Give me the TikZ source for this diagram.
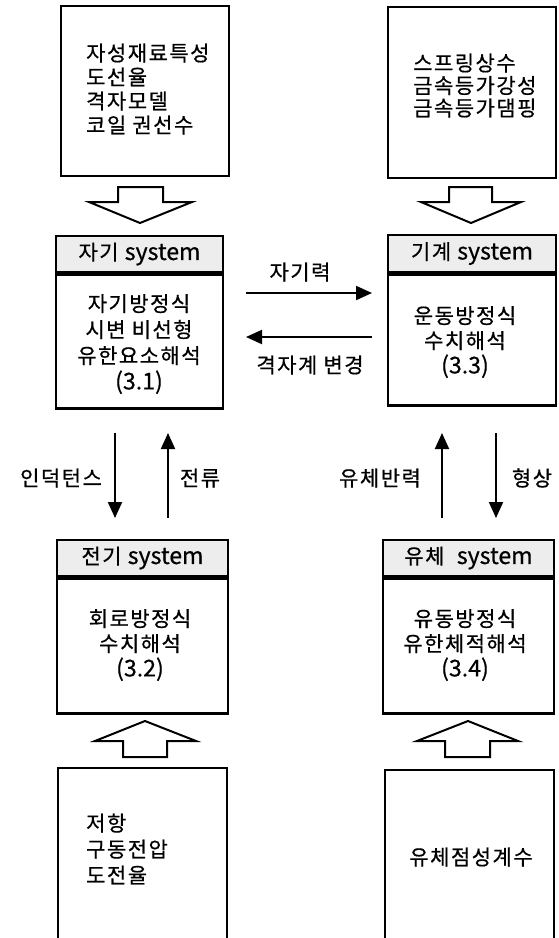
\documentclass[tikz,border=0pt]{standalone}
\usepackage{fontspec}
\setmainfont{Noto Sans CJK KR}[LetterSpace=7,FakeBold=0.6]
\newfontfamily\latfont{Noto Sans CJK KR}[Scale=1.1,FakeBold=0.6]
\usetikzlibrary{arrows.meta}
\tikzset{
  bx/.style={draw, line width=2.6pt, inner sep=0pt},
  hdr/.style={draw, line width=2.6pt, fill=black!7, inner sep=0pt, font=\fontsize{21}{22}\selectfont},
  txt/.style={inner sep=0pt, font=\fontsize{21}{24}\selectfont},
  lbl/.style={inner sep=0pt, font=\fontsize{21}{22}\selectfont},
  conn/.style={line width=2pt, -{Triangle[length=16pt,width=14pt]}},
  hollow/.style={draw, line width=2pt, fill=white, line join=miter}
}
\begin{document}
\begin{tikzpicture}[x=1pt,y=-1pt]
\useasboundingbox (0,0) rectangle (558,938);
% input boxes
\node[bx, minimum width=168pt, minimum height=170pt] (inMag) at (145,91) {};
\node[bx, minimum width=168pt, minimum height=171pt] (inMech) at (472,92.5) {};
\node[bx, minimum width=169pt, minimum height=182pt] (inElec) at (142.5,859) {};
\node[bx, minimum width=169pt, minimum height=180pt] (inFluid) at (469.5,860) {};
\node[txt, align=left, anchor=west] (tMag) at (86,89) {자성재료특성\\도선율\\격자모델\\코일 권선수};
\node[txt, align=left, anchor=west, font=\fontsize{21}{22.5}\selectfont] (tMech) at (413,85.5) {스프링상수\\금속등가강성\\금속등가댐핑};
\node[txt, align=left, anchor=west, font=\fontsize{21}{26}\selectfont] (tElec) at (86,849) {저항\\구동전압\\도전율};
\node[txt] (tFluid) at (471,857) {유체점성계수};
% system boxes
\node[hdr, minimum width=167pt, minimum height=36pt] (magH) at (139.5,254) {자기 {\latfont system}};
\node[bx, minimum width=167pt, minimum height=134pt, anchor=north] (magSys) at (magH.south) {};
\node[txt, align=center, font=\fontsize{21}{26}\selectfont] at (139,344) {자기방정식\\시변 비선형\\유한요소해석\\{\latfont (3.1)}};
\node[hdr, minimum width=168pt, minimum height=37pt] (mechH) at (472,253.5) {기계 {\latfont system}};
\node[bx, minimum width=168pt, minimum height=131pt, anchor=north] (mechSys) at (mechH.south) {};
\node[txt, align=center, font=\fontsize{21}{25}\selectfont] at (465,342) {운동방정식\\수치해석\\{\latfont (3.3)}};
\node[hdr, minimum width=171pt, minimum height=36pt] (elecH) at (142.5,558) {전기 {\latfont system}};
\node[bx, minimum width=171pt, minimum height=135pt, anchor=north] (elecSys) at (elecH.south) {};
\node[txt, align=center, font=\fontsize{21}{25}\selectfont] at (140,645) {회로방정식\\수치해석\\{\latfont (3.2)}};
\node[hdr, minimum width=171pt, minimum height=36pt] (fluidH) at (468.5,558) {유체 \ {\latfont system}};
\node[bx, minimum width=171pt, minimum height=135pt, anchor=north] (fluidSys) at (fluidH.south) {};
\node[txt, align=center, font=\fontsize{21}{25}\selectfont] at (465,645) {유동방정식\\유한체적해석\\{\latfont (3.4)}};
% hollow arrows
\draw[hollow] (118,187) -- (163,187) -- (163,202) -- (192,202) -- (140,223) -- (89,202) -- (118,202) -- cycle;
\draw[hollow] (449,187) -- (492,187) -- (492,202) -- (521,202) -- (471,223) -- (421,202) -- (449,202) -- cycle;
\draw[hollow] (123,757) -- (167,757) -- (167,741) -- (196,741) -- (145,721) -- (95,741) -- (123,741) -- cycle;
\draw[hollow] (445,757) -- (490,757) -- (490,741) -- (518,741) -- (468,721) -- (417,741) -- (445,741) -- cycle;
% connectors
\coordinate (fA) at (246,293); \coordinate (fB) at (372,293);
\coordinate (gA) at (372,337); \coordinate (gB) at (246,337);
\draw[conn] (fA) -- (fB);
\draw[conn] (gA) -- (gB);
\node[lbl] (lF) at (300,272) {자기력};
\node[lbl] (lG) at (310,365) {격자계 변경};
\coordinate (iA) at (115,433); \coordinate (iB) at (115,518);
\coordinate (cA) at (168,518); \coordinate (cB) at (168,433);
\draw[conn] (iA) -- (iB);
\draw[conn] (cA) -- (cB);
\node[lbl] (lI) at (61,478) {인덕턴스};
\node[lbl] (lC) at (200,478) {전류};
\coordinate (rA) at (442,518); \coordinate (rB) at (442,433);
\coordinate (sA) at (496,433); \coordinate (sB) at (496,518);
\draw[conn] (rA) -- (rB);
\draw[conn] (sA) -- (sB);
\node[lbl] (lR) at (380,478) {유체반력};
\node[lbl] (lS) at (532,478) {형상};
\end{tikzpicture}
\end{document}
